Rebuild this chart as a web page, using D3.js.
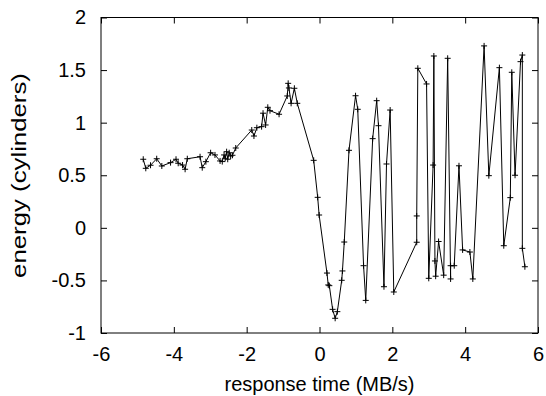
<!DOCTYPE html>
<html>
<head>
<meta charset="utf-8">
<script src="https://cdn.jsdelivr.net/npm/d3@7"></script>
<style>
  body { margin: 0; background: #fff; }
  text { font-family: "Liberation Sans", Arial, Helvetica, sans-serif; fill: #000; }
</style>
</head>
<body>
<div id="chart"></div>
<script>
// response time values (x) and energy values (y)
const responseTime = [
  -4.84, -4.77, -4.64, -4.47, -4.33, -4.09, -3.94, -3.88, -3.76, -3.69,
  -3.63, -3.28, -3.22, -3.12, -2.99, -2.87, -2.73, -2.67, -2.62, -2.59,
  -2.55, -2.52, -2.48, -2.44, -2.39, -2.30, -1.86, -1.80, -1.72, -1.59,
  -1.55, -1.48, -1.42, -1.36, -1.11, -0.885, -0.86, -0.84, -0.78, -0.69,
  -0.61, -0.16, -0.05, -0.01, 0.205, 0.24, 0.27, 0.36, 0.43, 0.49,
  0.61, 0.63, 0.68, 0.81, 0.99, 1.05, 1.21, 1.27, 1.46, 1.57,
  1.62, 1.77, 1.84, 1.94, 2.04, 2.67, 2.67, 2.70, 2.94, 3.00,
  3.12, 3.14, 3.17, 3.19, 3.27, 3.41, 3.52, 3.60, 3.60, 3.70,
  3.83, 3.93, 4.13, 4.21, 4.52, 4.65, 4.94, 5.06, 5.24, 5.28,
  5.37, 5.52, 5.57, 5.57, 5.64
];
const energy = [
  0.652, 0.566, 0.595, 0.657, 0.588, 0.62, 0.652, 0.614, 0.597, 0.557,
  0.657, 0.676, 0.572, 0.629, 0.714, 0.693, 0.636, 0.63, 0.693, 0.661,
  0.724, 0.652, 0.714, 0.683, 0.69, 0.759, 0.93, 0.873, 0.952, 0.962,
  1.09, 0.978, 1.146, 1.114, 1.08, 1.254, 1.374, 1.33, 1.184, 1.327,
  1.184, 0.642, 0.29, 0.122, -0.43, -0.543, -0.55, -0.775, -0.86, -0.797,
  -0.499, -0.41, -0.135, 0.737, 1.256, 1.127, -0.36, -0.69, 0.848, 1.209,
  0.971, -0.56, 0.607, 1.12, -0.61, -0.137, 0.113, 1.517, 1.368, -0.48,
  0.597, 1.634, -0.315, -0.46, -0.13, -0.45, 1.612, -0.486, -0.36, -0.36,
  0.59, -0.21, -0.23, -0.486, 1.73, 0.496, 1.523, -0.17, 0.287, 1.479,
  0.50, 1.58, 1.643, -0.195, -0.37
];
const xTicks = [-6, -4, -2, 0, 2, 4, 6];
const yTicks = [-1, -0.5, 0, 0.5, 1, 1.5, 2];

const W = 546, H = 396;
const margin = {top: 17.5, right: 8, bottom: 63, left: 101};
const width = W - margin.left - margin.right,
  height = H - margin.top - margin.bottom;

const svg = d3.select("#chart").append("svg")
  .attr("width", W)
  .attr("height", H);
const g = svg.append("g")
  .attr("transform", `translate(${margin.left}, ${margin.top})`);

const x = d3.scaleLinear().domain([-6, 6]).range([0, width]);
const y = d3.scaleLinear().domain([-1, 2]).range([height, 0]);

// axes with inward ticks, mirrored on top/right
const fs = 20;
g.append("g").attr("transform", `translate(0, ${height})`)
  .call(d3.axisBottom(x).tickValues(xTicks).tickSize(-6).tickPadding(14).tickFormat(d => String(d)))
  .call(a => a.select(".domain").remove());
g.append("g").call(d3.axisTop(x).tickValues(xTicks).tickSize(-6).tickFormat(""))
  .call(a => a.select(".domain").remove());
g.append("g")
  .call(d3.axisLeft(y).tickValues(yTicks).tickSize(-6).tickPadding(15).tickFormat(d => String(d)))
  .call(a => a.select(".domain").remove());
g.append("g").attr("transform", `translate(${width}, 0)`)
  .call(d3.axisRight(y).tickValues(yTicks).tickSize(-6).tickFormat(""))
  .call(a => a.select(".domain").remove());
g.selectAll(".tick line").attr("stroke", "#000");
g.selectAll(".tick text").style("font-size", fs + "px").style("font-family", "Liberation Sans, Arial, sans-serif");
g.selectAll("g").attr("font-family", null);

g.append("rect")
  .attr("width", width).attr("height", height)
  .attr("fill", "none").attr("stroke", "#000").attr("stroke-width", 1);

const pts = responseTime.map((v, i) => [v, energy[i]]);
const line = d3.line().x(d => x(d[0])).y(d => y(d[1]));
g.append("path").datum(pts)
  .attr("d", line)
  .attr("fill", "none").attr("stroke", "#000").attr("stroke-width", 1);

g.selectAll(".pt").data(pts).enter().append("path")
  .attr("class", "pt")
  .attr("transform", d => `translate(${x(d[0])}, ${y(d[1])})`)
  .attr("d", "M-3,0H3M0,-3V3")
  .attr("stroke", "#000").attr("stroke-width", 1);

// axis titles
svg.append("text")
  .attr("x", margin.left + width / 2).attr("y", 391)
  .attr("text-anchor", "middle").style("font-size", fs + "px")
  .text("response time (MB/s)");
// the y title is drawn stretched along its length in the reference
const yTitle = svg.append("text")
  .attr("text-anchor", "middle").style("font-size", fs + "px")
  .text("energy (cylinders)");
const stretch = 205 / yTitle.node().getComputedTextLength();
yTitle.attr("transform", `translate(26, 175.5) rotate(-90) scale(${stretch}, 1)`);
</script>
</body>
</html>
